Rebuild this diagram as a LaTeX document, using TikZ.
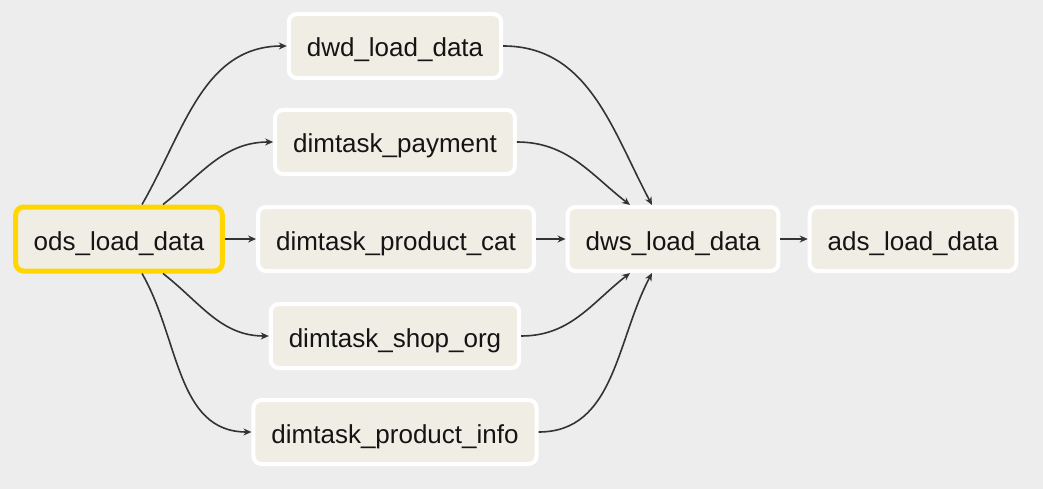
\documentclass[tikz,border=0pt]{standalone}
\usepackage{fontspec}
\setmainfont{Liberation Sans}
\usetikzlibrary{arrows.meta,calc}
\definecolor{bggray}{RGB}{237,237,237}
\definecolor{taskfill}{RGB}{240,237,229}
\definecolor{edgegray}{RGB}{51,51,51}
\definecolor{runyellow}{RGB}{255,214,0}

\begin{document}
\begin{tikzpicture}[x=1pt,y=-1pt,>={Stealth[length=8pt,width=7pt]},
  task/.style={draw=white,line width=4pt,fill=taskfill,rounded corners=8pt,
    minimum height=64pt,inner xsep=18pt,text height=22pt,text depth=0pt,
    text=black!92,font=\fontsize{26}{30}\selectfont},
  edge/.style={->,draw=edgegray,line width=1.6pt}]
\fill[bggray] (0,0) rectangle (1043,489);
\node[task,draw=runyellow,line width=5pt] (ods) at (119,239) {ods\_load\_data};
\node[task] (dwd) at (395,46) {dwd\_load\_data};
\node[task] (pay) at (395,142) {dimtask\_payment};
\node[task] (cat) at (396,239) {dimtask\_product\_cat};
\node[task] (shop) at (395,336) {dimtask\_shop\_org};
\node[task] (info) at (395,432) {dimtask\_product\_info};
\node[task] (dws) at (673,239) {dws\_load\_data};
\node[task] (ads) at (913,239) {ads\_load\_data};
% ods to the dimension tasks
\draw[edge] ([xshift=23pt]ods.north) to[out=60,in=180] (dwd.west);
\draw[edge] ([xshift=44pt]ods.north) to[out=38,in=180] (pay.west);
\draw[edge] (ods.east) -- (cat.west);
\draw[edge] ([xshift=44pt]ods.south) to[out=-38,in=180] (shop.west);
\draw[edge] ([xshift=23pt]ods.south) to[out=-60,in=180] (info.west);
% dimension tasks to dws
\draw[edge] (dwd.east) to[out=0,in=118] ([xshift=-21pt]dws.north);
\draw[edge] (pay.east) to[out=0,in=142] ([xshift=-43pt]dws.north);
\draw[edge] (cat.east) -- (dws.west);
\draw[edge] (shop.east) to[out=0,in=-142] ([xshift=-43pt]dws.south);
\draw[edge] (info.east) to[out=0,in=-118] ([xshift=-21pt]dws.south);
\draw[edge] (dws.east) -- (ads.west);
\end{tikzpicture}
\end{document}
